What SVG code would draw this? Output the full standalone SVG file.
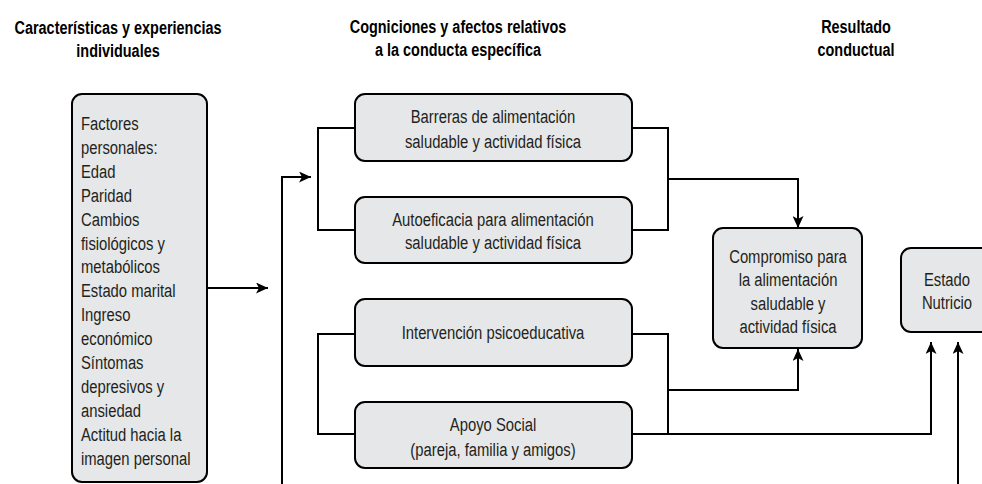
<svg xmlns="http://www.w3.org/2000/svg" width="982" height="484" viewBox="0 0 982 484">
<defs>
<marker id="ah" viewBox="0 0 12 11" refX="12" refY="5.5" markerWidth="12" markerHeight="11" markerUnits="userSpaceOnUse" orient="auto">
<path d="M0 0 L12 5.5 L0 11 L3 5.5 Z" fill="#000"/>
</marker>
<style>
.box{fill:#e6e7e8;stroke:#000;stroke-width:2}
.t{font-family:"Liberation Sans",Arial,sans-serif;font-size:19px;fill:#231f20}
.c{text-anchor:middle}
.h{font-weight:bold;fill:#000}
.ln{fill:none;stroke:#000;stroke-width:2}
</style>
</defs>
<rect width="982" height="484" fill="#fff"/>
<g id="titles">
<g transform="translate(118 0) scale(0.76 1)">
<text class="t h c" x="0" y="34">Características y experiencias</text>
<text class="t h c" x="0" y="57">individuales</text>
</g>
<g transform="translate(458 0) scale(0.76 1)">
<text class="t h c" x="0" y="33">Cogniciones y afectos relativos</text>
<text class="t h c" x="0" y="56">a la conducta específica</text>
</g>
<g transform="translate(856 0) scale(0.76 1)">
<text class="t h c" x="0" y="33">Resultado</text>
<text class="t h c" x="0" y="56">conductual</text>
</g>
</g>
<g id="connectors">
<path class="ln" d="M207 288 H268" marker-end="url(#ah)"/>
<path class="ln" d="M282 484 V177 H311" marker-end="url(#ah)"/>
<path class="ln" d="M355 128 H318 V230 H355"/>
<path class="ln" d="M632 128 H668 V230 H632"/>
<path class="ln" d="M668 179 H798 V228" marker-end="url(#ah)"/>
<path class="ln" d="M355 334 H318 V434 H355"/>
<path class="ln" d="M632 334 H668 V434 H632"/>
<path class="ln" d="M668 390 H798 V349" marker-end="url(#ah)"/>
<path class="ln" d="M668 434 H931 V342" marker-end="url(#ah)"/>
<path class="ln" d="M958 484 V342" marker-end="url(#ah)"/>
</g>
<g id="factores">
<rect class="box" x="72" y="94" width="135" height="388" rx="10"/>
<g transform="translate(81 0) scale(0.78 1)">
<text class="t" x="0" y="130">Factores</text>
<text class="t" x="0" y="154">personales:</text>
<text class="t" x="0" y="178">Edad</text>
<text class="t" x="0" y="202">Paridad</text>
<text class="t" x="0" y="226">Cambios</text>
<text class="t" x="0" y="250">fisiológicos y</text>
<text class="t" x="0" y="273">metabólicos</text>
<text class="t" x="0" y="297">Estado marital</text>
<text class="t" x="0" y="321">Ingreso</text>
<text class="t" x="0" y="345">económico</text>
<text class="t" x="0" y="369">Síntomas</text>
<text class="t" x="0" y="393">depresivos y</text>
<text class="t" x="0" y="417">ansiedad</text>
<text class="t" x="0" y="441">Actitud hacia la</text>
<text class="t" x="0" y="465">imagen personal</text>
</g>
</g>
<g id="barreras">
<rect class="box" x="355" y="94" width="277" height="67" rx="10"/>
<g transform="translate(493 0) scale(0.78 1)">
<text class="t c" x="0" y="123">Barreras de alimentación</text>
<text class="t c" x="0" y="148">saludable y actividad física</text>
</g>
</g>
<g id="autoeficacia">
<rect class="box" x="355" y="197" width="277" height="66" rx="10"/>
<g transform="translate(493 0) scale(0.78 1)">
<text class="t c" x="0" y="226">Autoeficacia para alimentación</text>
<text class="t c" x="0" y="249">saludable y actividad física</text>
</g>
</g>
<g id="intervencion">
<rect class="box" x="355" y="299" width="277" height="67" rx="10"/>
<g transform="translate(493 0) scale(0.78 1)">
<text class="t c" x="0" y="339">Intervención psicoeducativa</text>
</g>
</g>
<g id="apoyo">
<rect class="box" x="355" y="402" width="277" height="66" rx="10"/>
<g transform="translate(493 0) scale(0.78 1)">
<text class="t c" x="0" y="431">Apoyo Social</text>
<text class="t c" x="0" y="456">(pareja, familia y amigos)</text>
</g>
</g>
<g id="compromiso">
<rect class="box" x="713" y="228" width="149" height="120" rx="10"/>
<g transform="translate(788 0) scale(0.78 1)">
<text class="t c" x="0" y="263">Compromiso para</text>
<text class="t c" x="0" y="286">la alimentación</text>
<text class="t c" x="0" y="310">saludable y</text>
<text class="t c" x="0" y="333">actividad física</text>
</g>
</g>
<g id="estado">
<rect class="box" x="901" y="248" width="92" height="84" rx="10"/>
<g transform="translate(947 0) scale(0.78 1)">
<text class="t c" x="0" y="286">Estado</text>
<text class="t c" x="0" y="309">Nutricio</text>
</g>
</g>
</svg>
